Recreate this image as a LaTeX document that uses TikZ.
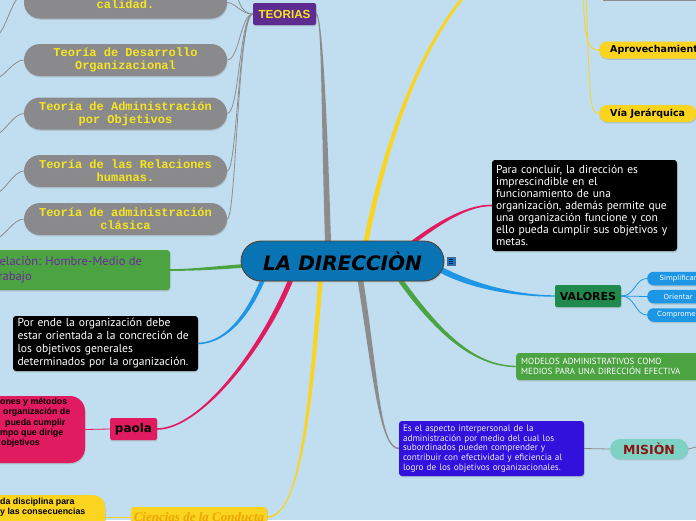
\documentclass[tikz,border=0pt]{standalone}
\usepackage{fontspec}
\setmainfont{PT Sans}
\newfontfamily\monof{Liberation Mono}
\newfontfamily\dejaf{DejaVu Sans}
\newfontfamily\libsf{Liberation Sans}
\newfontfamily\libserf{Liberation Serif}
\usetikzlibrary{calc,shadows}
\pgfdeclarelayer{bg}
\pgfsetlayers{bg,main}
\definecolor{bgc}{RGB}{193,222,240}
\definecolor{pillg}{RGB}{138,138,141}
\definecolor{connG}{RGB}{140,140,140}
\definecolor{tyel}{RGB}{246,229,30}
\definecolor{cpurple}{RGB}{94,44,145}
\definecolor{cctr}{RGB}{8,116,180}
\definecolor{cctrb}{RGB}{90,60,30}
\definecolor{cgreen}{RGB}{75,163,66}
\definecolor{cpink}{RGB}{225,27,95}
\definecolor{cyel}{RGB}{250,212,30}
\definecolor{cbl}{RGB}{30,150,230}
\definecolor{cval}{RGB}{31,138,76}
\definecolor{cbbox}{RGB}{51,17,221}
\definecolor{cteal}{RGB}{125,210,195}
\definecolor{cdred}{RGB}{140,20,20}
\definecolor{ccien}{RGB}{238,165,5}
\definecolor{cptxt}{RGB}{110,40,160}
\definecolor{iconf}{RGB}{20,120,190}
\definecolor{iconl}{RGB}{10,40,90}
\newcommand\taperlink[7]{%
  \fill[#1] ($#2!#6!90:#3$) .. controls ($#3!#6!-90:#2$) and ($#4!#7!90:#5$) .. ($#5!#7!-90:#4$)
   -- ($#5!#7!90:#4$) .. controls ($#4!#7!-90:#5$) and ($#3!#6!90:#2$) .. ($#2!#6!-90:#3$) -- cycle;}
\tikzset{
  shad/.style={drop shadow={shadow xshift=0.6pt,shadow yshift=-1.3pt,opacity=0.3}},
  graypill/.style={shad,rounded corners=16pt,fill=pillg,minimum width=203,minimum height=32,inner sep=0,align=center,text=tyel,font=\monof\bfseries\fontsize{12}{13}\selectfont},
  thinc/.style={line width=0.8pt},
  darkbox/.style={shad,rounded corners=3pt,fill=black,text=white,inner sep=0,align=left},
  ylwpill/.style={shad,rounded corners=8pt,fill=cyel,anchor=west,inner xsep=11pt,inner ysep=0,minimum height=17,font=\dejaf\bfseries\fontsize{9.5}{10}\selectfont},
  bluepill/.style={shad,rounded corners=6.5pt,fill=cbl,anchor=west,inner xsep=10pt,inner ysep=0,minimum height=13.5,minimum width=62,text=white,align=left,font=\dejaf\fontsize{7}{8}\selectfont},
}
\begin{document}
\begin{tikzpicture}[x=1pt,y=-1pt]
\useasboundingbox (0,0) rectangle (696,520);
\begin{pgfonlayer}{bg}
\fill[bgc] (0,0) rectangle (696,520);
\end{pgfonlayer}

% central
\node[shad,draw=cctrb,line width=0.8pt,fill=cctr,rounded corners=20pt,minimum width=203,minimum height=40,inner sep=0,font=\dejaf\bfseries\itshape\fontsize{20}{22}\selectfont] (ctr) at (342.5,261) {LA DIRECCIÒN};
\node[draw=iconl!70,fill=iconf,minimum size=8,inner sep=0] (icon) at (451,261) {};
\foreach \dy in {-2,0,2} \draw[iconl,line width=0.7pt] ($(icon.center)+(-2.3,\dy)$) -- ++(4.6,0);

% teorias
\node[shad,fill=cpurple,rounded corners=2pt,minimum width=63,minimum height=22,inner sep=0,text=tyel,font=\libsf\bfseries\fontsize{11.7}{13}\selectfont] (teorias) at (284.5,14) {TEORIAS};
\node[graypill] (pcal) at (125.5,2.5) {\mbox{}\\calidad.};
\node[graypill] (pdes) at (125.5,60) {Teoría de Desarrollo\\Organizacional};
\node[graypill] (padm) at (125.5,113.5) {Teoría de Administración\\por Objetivos};
\node[graypill] (prel) at (125.5,171) {Teoría de las Relaciones\\humanas.};
\node[graypill] (pcla) at (125.5,219) {Teoría de administración\\clásica};
\coordinate (tup) at (237,-10);
\coordinate (lcal) at (-4,36);
\coordinate (ldes) at (-4,79);
\coordinate (ladm) at (-4,135);
\coordinate (lrel) at (-4,194);
\coordinate (lcla) at (-4,239);

% left side
\node[shad,fill=cgreen,rounded corners=3pt,minimum width=200,minimum height=40,inner sep=0] (relbox) at (70,270) {};
\node[anchor=west,inner sep=0,align=left,text=cptxt,font=\fontsize{12.5}{15}\selectfont] (reltxt) at (-7.5,269.5) {Relaciòn: Hombre-Medio de\\Trabajo};
\node[darkbox,minimum width=185,minimum height=55,text width=176,font=\fontsize{11.6}{13}\selectfont] (porende) at (105.5,343.5) {Por ende la organización debe\\estar orientada a la concreción de\\los objetivos generales\\determinados por la organización.};
\node[shad,fill=cpink,rounded corners=2pt,minimum width=47,minimum height=22,inner sep=0,font=\dejaf\bfseries\fontsize{12}{13}\selectfont] (paola) at (133.5,429) {paola};
\node[shad,fill=cpink,rounded corners=15pt,minimum width=125,minimum height=67,inner sep=0] (pbig) at (22.5,429.5) {};
\node[anchor=north west,inner sep=0,align=left,font=\libsf\bfseries\fontsize{8.8}{10.3}\selectfont] (pbigtxt) at (0,398) {ones y métodos\\\hspace*{3pt}organización de\\\hspace*{5pt}pueda cumplir\\mpo que dirige\\\hspace*{1pt}objetivos};
\node[shad,fill=cyel,rounded corners=12pt,minimum width=145,minimum height=45,inner sep=0] (ybl) at (32.5,517.5) {};
\node[anchor=north west,inner sep=0,align=left,font=\libsf\bfseries\fontsize{8.8}{10}\selectfont] (ybltxt) at (0,498) {da disciplina para\\y las consecuencias};
\node[shad,fill=cyel,rounded corners=3pt,minimum width=136,minimum height=20,inner sep=0,text=ccien,font=\libserf\bfseries\itshape\fontsize{13}{14}\selectfont] (cienc) at (199,517) {Ciencias de la Conducta};

% top right
\fill[black!45] (603,-10) rectangle (700,0.8);
\node[ylwpill] (aprov) at (599,50) {Aprovechamiento};
\node[ylwpill] (via) at (599,113.5) {Vía Jerárquica};
\coordinate (ytr1) at (583,-6);
\coordinate (ytr2) at (586,-6);
\coordinate (ytop) at (466,-6);

% right side
\node[darkbox,minimum width=185,minimum height=91,text width=177,font=\fontsize{11.5}{12}\selectfont] (parac) at (584.5,205.5) {Para concluir, la dirección es\\imprescindible en el\\funcionamiento de una\\organización, además permite que\\una organización funcione y con\\ello pueda cumplir sus objetivos y\\metas.};
\node[shad,fill=cval,rounded corners=2pt,minimum width=66,minimum height=22,inner sep=0,font=\dejaf\bfseries\fontsize{11}{12}\selectfont] (valores) at (588,296) {VALORES};
\node[bluepill] (simp) at (647,278.5) {Simplificar};
\node[bluepill] (orie) at (647,296.5) {Orientar};
\node[bluepill] (comp) at (647,315) {Comprometer};
\node[shad,fill=cgreen,rounded corners=3pt,anchor=west,minimum height=27,text width=185,inner xsep=5pt,inner ysep=0,text=white,align=left,font=\fontsize{8.9}{10}\selectfont] (modelos) at (516,366.5) {MODELOS ADMINISTRATIVOS COMO\\MEDIOS PARA UNA DIRECCIÓN EFECTIVA};
\node[shad,fill=cbbox,rounded corners=3pt,minimum width=185,minimum height=55,text width=177,inner sep=0,align=left,text=white!92!blue,font=\fontsize{9.2}{9.7}\selectfont] (aspecto) at (491.5,448.5) {Es el aspecto interpersonal de la\\administración por medio del cual los\\subordinados pueden comprender y\\contribuir con efectividad y eficiencia al\\logro de los objetivos organizacionales.};
\node[shad,fill=cteal,rounded corners=10pt,minimum width=78,minimum height=20,inner sep=0,text=cdred,font=\dejaf\bfseries\fontsize{12.5}{13}\selectfont] (mision) at (649,449) {MISIÒN};
\coordinate (misr) at (700,446);

% anchor points on central node
\coordinate (cT1) at ($(ctr.north)+(-14.5,1)$);
\coordinate (cT2) at ($(ctr.north)+(23.5,1)$);
\coordinate (cT3) at ($(ctr.north)+(70,2)$);
\coordinate (cR1) at ($(ctr.east)+(-5,8)$);
\coordinate (cL1) at ($(ctr.west)+(2,5)$);
\coordinate (cB1) at ($(ctr.south)+(-80,-1)$);
\coordinate (cB2) at ($(ctr.south)+(-52,-1)$);
\coordinate (cB3) at ($(ctr.south)+(-22,-1)$);
\coordinate (cB4) at ($(ctr.south)+(18,-1)$);
\coordinate (cB5) at ($(ctr.south)+(58,-1)$);

\begin{pgfonlayer}{bg}
% main tapered branches
\taperlink{connG}{(cT1)}{(324,110)}{(322,15)}{(teorias.east)}{3pt}{1.1pt}
\taperlink{cyel}{(cT2)}{(380,170)}{(410,60)}{(ytop)}{2.4pt}{1.4pt}
\taperlink{cpink}{(cT3)}{(440,222)}{(468,205)}{(parac.west)}{2pt}{0.8pt}
\taperlink{cbl}{(cR1)}{(475,288)}{(520,296)}{(valores.west)}{3pt}{0.7pt}
\taperlink{cgreen}{(cB5)}{(440,335)}{(475,366)}{(modelos.west)}{2.5pt}{0.7pt}
\taperlink{connG}{(cB4)}{(376,380)}{(380,448)}{(aspecto.west)}{2.8pt}{0.8pt}
\taperlink{cyel}{(cB3)}{(310,410)}{(300,517)}{(cienc.east)}{2.2pt}{0.8pt}
\taperlink{cpink}{(cB2)}{(262,350)}{(200,429)}{(paola.east)}{2.5pt}{0.8pt}
\taperlink{cbl}{(cB1)}{(245,322)}{(222,343)}{(porende.east)}{2.2pt}{0.8pt}
\taperlink{cgreen}{(cL1)}{(215,268)}{(192,270)}{(relbox.east)}{1.8pt}{0.9pt}
% teorias children
\draw[thinc,connG] (teorias.west) .. controls +(-12,0) and +(8,0) .. (pcal.east);
\draw[thinc,connG] (teorias.west) .. controls +(-12,0) and +(0,8) .. (tup);
\draw[thinc,connG] (teorias.west) .. controls +(-12,0) and +(12,0) .. (pdes.east);
\draw[thinc,connG] (teorias.west) .. controls +(-13,0) and +(12,0) .. (padm.east);
\draw[thinc,connG] (teorias.west) .. controls +(-14,0) and +(10,0) .. (prel.east);
\draw[thinc,connG] (teorias.west) .. controls +(-15,0) and +(9,0) .. (pcla.east);
\draw[thinc,connG] ($(pcal.west)+(0,-8)$) coordinate (pcalw) .. controls +(-12,0) and +(10,-3) .. (lcal);
\draw[thinc,connG] (pdes.west) .. controls +(-10,0) and +(9,-3) .. (ldes);
\draw[thinc,connG] (padm.west) .. controls +(-10,0) and +(9,-3) .. (ladm);
\draw[thinc,connG] (prel.west) .. controls +(-10,0) and +(9,-3) .. (lrel);
\draw[thinc,connG] (pcla.west) .. controls +(-10,0) and +(9,-3) .. (lcla);
% others
\draw[thinc,cpink] (paola.west) -- (pbig.east);
\draw[thinc,cyel] (ybl.east |- cienc.east) -- (cienc.west);
\draw[thinc,cyel] (ytr1) .. controls (585,42) and (588,50) .. (aprov.west);
\draw[thinc,cyel] (ytr2) .. controls (590,105) and (590,113.5) .. (via.west);
\draw[thinc,cbl] (valores.east) .. controls +(14,0) and +(-12,0) .. (simp.west);
\draw[thinc,cbl] (valores.east) -- (orie.west);
\draw[thinc,cbl] (valores.east) .. controls +(14,0) and +(-12,0) .. (comp.west);
\draw[thinc,connG] (aspecto.east) -- (mision.west);
\draw[thinc,connG] (mision.east) -- (misr);
\end{pgfonlayer}
\end{tikzpicture}
\end{document}
